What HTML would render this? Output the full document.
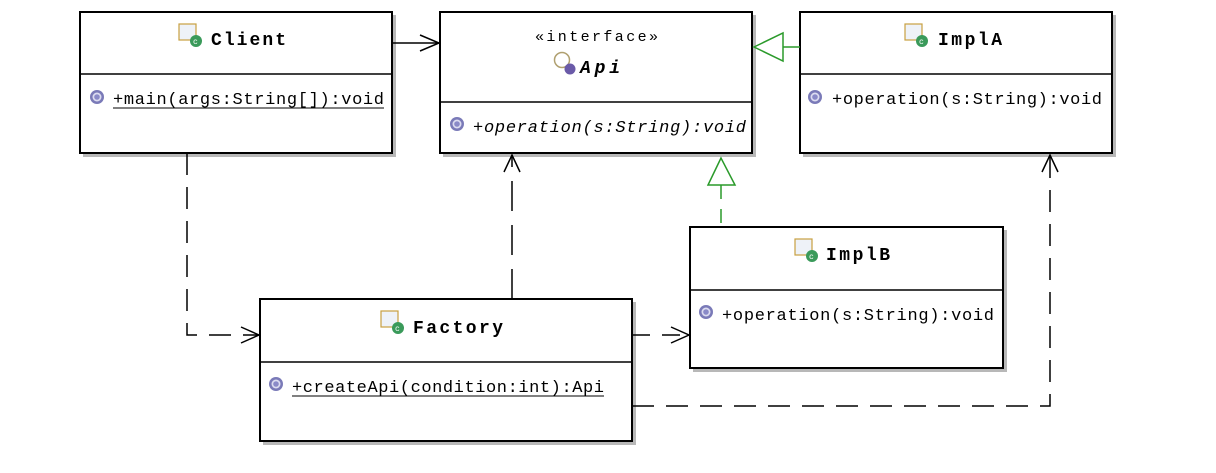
<!DOCTYPE html>
<html><head><meta charset="utf-8"><style>
html,body{margin:0;padding:0;background:#fff;}
svg text{font-family:"Liberation Mono","Noto Sans CJK SC",monospace;fill:#000;}
</style></head><body>
<svg width="1216" height="468" viewBox="0 0 1216 468" xmlns="http://www.w3.org/2000/svg">
<defs>
<g id="cls"><rect x="0" y="0" width="17" height="16" fill="#eef2f8" stroke="#c8a040" stroke-width="1.2"/><circle cx="17" cy="17" r="6" fill="#3a9a5a"/><text x="14" y="20" font-size="8" style="fill:#fff">c</text></g>
<g id="op"><circle cx="7" cy="7" r="7" fill="#7a7ab8"/><circle cx="7" cy="7" r="4.5" fill="#dcdcf0"/><circle cx="7" cy="7" r="2.8" fill="#8a8ac8"/></g>
</defs>
<g fill="#b8b8b8">
<rect x="83" y="15" width="313" height="142"/>
<rect x="443" y="15" width="313" height="142"/>
<rect x="803" y="15" width="313" height="142"/>
<rect x="693" y="230" width="314" height="142"/>
<rect x="263" y="302" width="373" height="143"/>
</g>
<g fill="#fff" stroke="#000" stroke-width="2">
<rect x="80" y="12" width="312" height="141"/>
<rect x="440" y="12" width="312" height="141"/>
<rect x="800" y="12" width="312" height="141"/>
<rect x="690" y="227" width="313" height="141"/>
<rect x="260" y="299" width="372" height="142"/>
</g>
<g stroke="#000" stroke-width="1.5">
<line x1="80" y1="74" x2="392" y2="74"/>
<line x1="440" y1="102" x2="752" y2="102"/>
<line x1="800" y1="74" x2="1112" y2="74"/>
<line x1="690" y1="290" x2="1003" y2="290"/>
<line x1="260" y1="362" x2="632" y2="362"/>
</g>
<use href="#cls" x="179" y="24"/>
<text x="211" y="45" font-size="18" font-weight="bold" textLength="75">Client</text>
<text x="535" y="41" font-size="15" textLength="123">«interface»</text>
<circle cx="562" cy="60" r="7.5" fill="#fff" stroke="#b0a070" stroke-width="1.5"/><circle cx="570" cy="69" r="5.5" fill="#6a5aa8"/>
<text x="580" y="73" font-size="18" font-weight="bold" font-style="italic" textLength="40">Api</text>
<use href="#cls" x="905" y="24"/>
<text x="938" y="45" font-size="18" font-weight="bold" textLength="64">ImplA</text>
<use href="#cls" x="795" y="239"/>
<text x="826" y="260" font-size="18" font-weight="bold" textLength="64">ImplB</text>
<use href="#cls" x="381" y="311"/>
<text x="413" y="333" font-size="18" font-weight="bold" textLength="90">Factory</text>
<use href="#op" x="90" y="90"/>
<text x="113" y="104" font-size="17" textLength="271">+main(args:String[]):void</text>
<line x1="113" y1="108" x2="384" y2="108" stroke="#000" stroke-width="1"/>
<use href="#op" x="450" y="117"/>
<text x="473" y="132" font-size="17" font-style="italic" textLength="273">+operation(s:String):void</text>
<use href="#op" x="808" y="90"/>
<text x="832" y="104" font-size="17" textLength="270">+operation(s:String):void</text>
<use href="#op" x="699" y="305"/>
<text x="722" y="320" font-size="17" textLength="272">+operation(s:String):void</text>
<use href="#op" x="269" y="377"/>
<text x="292" y="392" font-size="17" textLength="312">+createApi(condition:int):Api</text>
<line x1="292" y1="396" x2="604" y2="396" stroke="#000" stroke-width="1"/>
<g stroke="#000" stroke-width="1.5" fill="none">
<line x1="392" y1="43" x2="439" y2="43"/>
<polyline points="420,35 439,43 420,51"/>
<polyline points="187,153 187,335 260,335" stroke-dasharray="22,12"/>
<polyline points="241,327 259,335 241,343"/>
<line x1="512" y1="299" x2="512" y2="155" stroke-dasharray="30,14"/>
<polyline points="504,172 512,155 520,172"/>
<line x1="632" y1="335" x2="689" y2="335" stroke-dasharray="18,12"/>
<polyline points="671,327 689,335 671,343"/>
<polyline points="632,406 1050,406 1050,155" stroke-dasharray="22,12"/>
<polyline points="1042,172 1050,155 1058,172"/>
</g>
<g stroke="#2a9a2a" stroke-width="1.5" fill="#fff">
<line x1="783" y1="47" x2="800" y2="47"/>
<polygon points="754,47 783,33 783,61"/>
<line x1="721" y1="185" x2="721" y2="227" stroke-dasharray="14,10"/>
<polygon points="721,158 708,185 735,185"/>
</g>
</svg>
</body></html>
